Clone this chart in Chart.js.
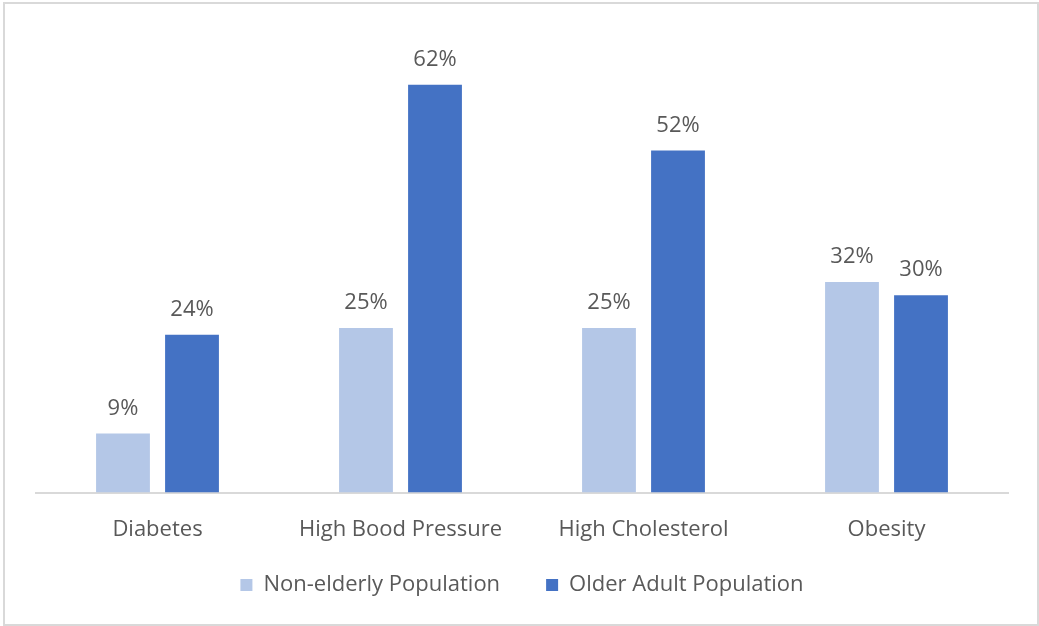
<!DOCTYPE html>
<html>
<head>
<meta charset="utf-8">
<script src="https://cdn.jsdelivr.net/npm/chart.js@4.4.1/dist/chart.umd.min.js"></script>
<style>
  html, body { margin: 0; padding: 0; background: #fff; }
  #wrap { position: relative; width: 1039px; height: 626px; }
  #frame {
    position: absolute; left: 3px; top: 2px; width: 1036px; height: 624px;
    box-sizing: border-box; border: 2px solid #d9d9d9; pointer-events: none;
  }
</style>
</head>
<body>
<div id="wrap">
  <canvas id="chart" width="1039" height="626"></canvas>
  <div id="frame"></div>
</div>
<script>
// Chart data
const categories = ['Diabetes', 'High Bood Pressure', 'High Cholesterol', 'Obesity'];
const nonElderly = [9, 25, 25, 32];
const olderAdult = [24, 62, 52, 30];
const seriesNames = ['Non-elderly Population', 'Older Adult Population'];

const textColor = '#595959';
const fontFamily = '"Open Sans", sans-serif';
const fontSize = 22;

// Draw value labels above each bar
const valueLabels = {
    id: 'valueLabels',
    afterDatasetsDraw(chart) {
        const ctx = chart.ctx;
        ctx.save();
        ctx.font = fontSize + 'px ' + fontFamily;
        ctx.fillStyle = textColor;
        ctx.textAlign = 'center';
        ctx.textBaseline = 'bottom';
        chart.data.datasets.forEach((ds, i) => {
            chart.getDatasetMeta(i).data.forEach((bar, j) => {
                ctx.fillText(ds.data[j] + '%', bar.x, bar.y - 14);
            });
        });
        ctx.restore();
    }
};

// Wide item spacing needs a big label padding, so pull the legend up a bit
const legendLift = {
    id: 'legendLift',
    afterLayout(chart) {
        chart.legend.top -= 31;
        chart.legend.bottom -= 31;
    }
};

new Chart(document.getElementById('chart'), {
    type: 'bar',
    data: {
        labels: categories,
        datasets: [{
            label: seriesNames[0],
            data: nonElderly,
            backgroundColor: '#b4c7e7'
        }, {
            label: seriesNames[1],
            data: olderAdult,
            backgroundColor: '#4472c4'
        }]
    },
    options: {
        responsive: false,
        animation: false,
        categoryPercentage: 0.568,
        barPercentage: 0.78,
        layout: { padding: { top: 32, left: 36, right: 31, bottom: -8 } },
        plugins: {
            legend: {
                position: 'bottom',
                maxHeight: 75,
                labels: {
                    boxWidth: 12,
                    boxHeight: 12,
                    color: textColor,
                    font: { size: fontSize, family: fontFamily },
                    padding: 46
                }
            },
            tooltip: { enabled: false }
        },
        scales: {
            x: {
                grid: { display: false },
                border: { color: '#d9d9d9', width: 2 },
                ticks: {
                    color: textColor,
                    font: { size: fontSize, family: fontFamily },
                    padding: 16
                }
            },
            y: {
                display: false,
                min: 0,
                max: 70
            }
        }
    },
    plugins: [valueLabels, legendLift]
});
</script>
</body>
</html>
